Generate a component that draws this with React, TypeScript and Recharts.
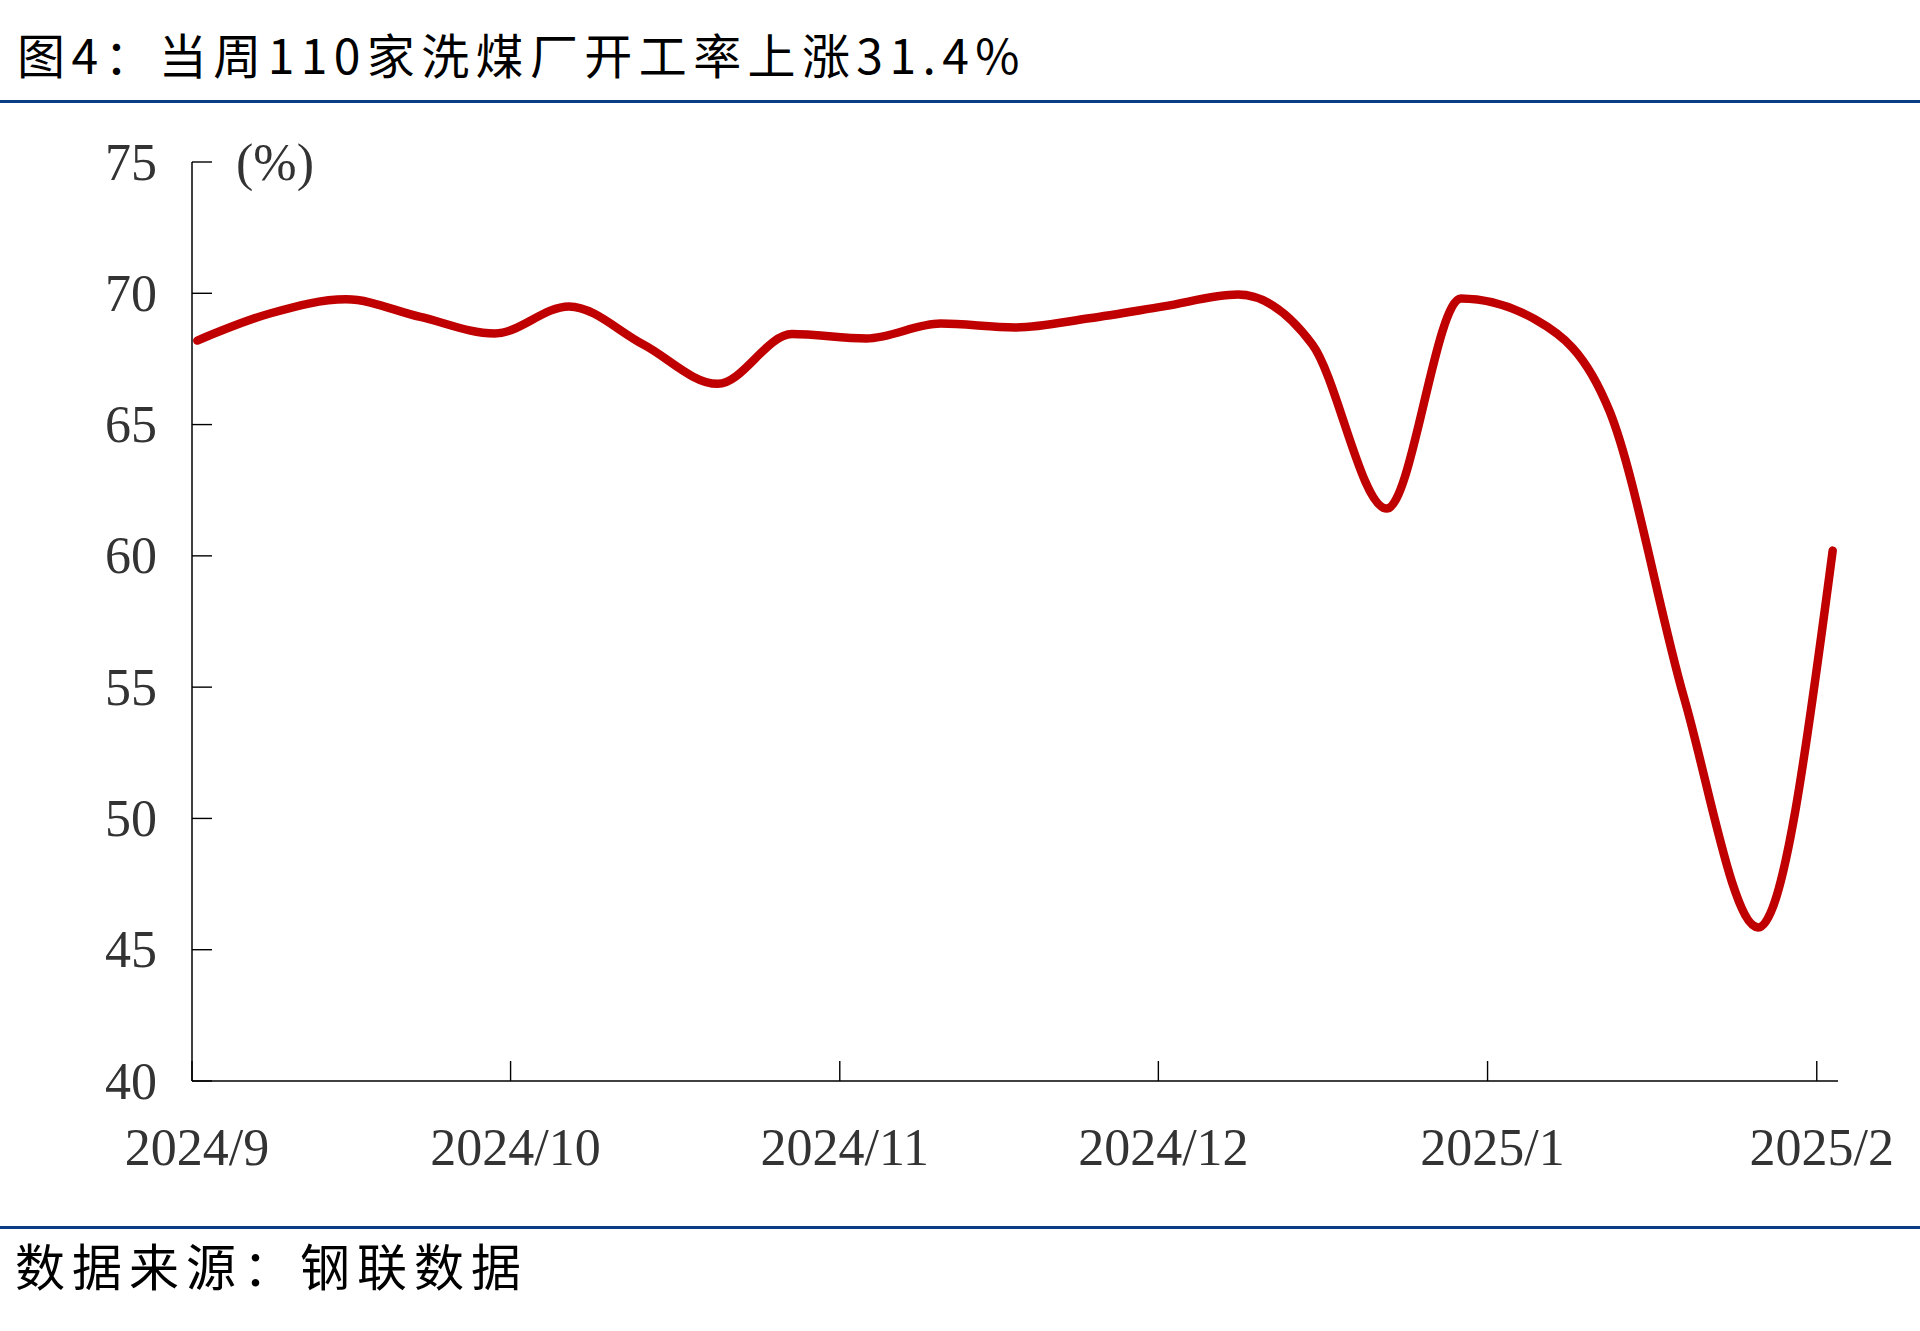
import React from "react";
import { LineChart, Line, XAxis, YAxis } from "recharts";

// weekly readings, 110 coal washing plants operating rate (%)
const weeks = [
  "2024-09-01", "2024-09-08", "2024-09-15", "2024-09-22", "2024-09-29",
  "2024-10-06", "2024-10-13", "2024-10-20", "2024-10-27",
  "2024-11-03", "2024-11-10", "2024-11-17", "2024-11-24",
  "2024-12-01", "2024-12-08", "2024-12-15", "2024-12-22", "2024-12-29",
  "2025-01-05", "2025-01-12", "2025-01-19", "2025-01-26",
  "2025-02-02",
];
const rates = [
  68.2, 69.25, 69.77, 69.1, 68.47,
  69.5, 68.05, 66.55, 68.45,
  68.28, 68.85, 68.7, 69.05,
  69.5, 69.95, 68.05, 61.8, 69.8,
  69.0, 65.5, 54.6, 45.85,
  60.2,
];
const monthStarts = ["2024-09-01", "2024-10-01", "2024-11-01", "2024-12-01", "2025-01-01", "2025-02-01"];
const monthLabels = ["2024/9", "2024/10", "2024/11", "2024/12", "2025/1", "2025/2"];
const yTicks = [40, 45, 50, 55, 60, 65, 70, 75];

const DAY = 86400000;
const origin = Date.parse("2024-09-01");
const toDay = (d: string) => (Date.parse(d) - origin) / DAY;

// readings are plotted at midday of each week's date
const data = weeks.map((w, i) => ({ day: toDay(w) + 0.5, rate: rates[i] }));
const xTicks = monthStarts.map(toDay);

const serif = "'Liberation Serif', 'Times New Roman', serif";
const cjk = "'Noto Sans CJK SC', sans-serif";
const BLUE = "#0b3d86";

const YTick = (props: any) => {
  const { x, y, payload } = props;
  return (
    <g>
      <line x1={x} x2={x + 20} y1={y} y2={y} stroke="#000" strokeWidth={1.4} />
      <text x={x - 35} y={y} textAnchor="end" dominantBaseline="central" fontFamily={serif} fontSize={52} fill="#333">
        {payload.value}
      </text>
    </g>
  );
};

const XTick = (props: any) => {
  const { x, y, payload, index } = props;
  return (
    <g>
      <line x1={x} x2={x} y1={y} y2={y - 20} stroke="#000" strokeWidth={1.4} />
      <text x={x + 5} y={y + 66} textAnchor="middle" dominantBaseline="central" fontFamily={serif} fontSize={52} fill="#333">
        {monthLabels[index] ?? payload.value}
      </text>
    </g>
  );
};

export default function App() {
  return (
    <div style={{ position: "absolute", left: 0, top: 0, width: 1920, height: 1331, background: "#fff", overflow: "hidden" }}>
      <div
        style={{
          position: "absolute", left: 17, top: 29, fontFamily: cjk, fontSize: 48,
          lineHeight: "48px", letterSpacing: 6.4, color: "#000", whiteSpace: "nowrap",
        }}
      >
        图4：当周110家洗煤厂开工率上涨31.4%
      </div>
      <div style={{ position: "absolute", left: 0, top: 100, width: 1920, height: 3, background: BLUE }} />

      <LineChart
        width={1920}
        height={1331}
        data={data}
        margin={{ top: 162, right: 82, bottom: 190, left: 132 }}
        style={{ position: "absolute", left: 0, top: 0 }}
      >
        <XAxis
          dataKey="day"
          type="number"
          domain={[0, 155]}
          ticks={xTicks}
          interval={0}
          height={60}
          tickSize={0}
          tickMargin={0}
          tickLine={false}
          axisLine={{ stroke: "#000", strokeWidth: 1.5 }}
          tick={<XTick />}
        />
        <YAxis
          type="number"
          domain={[40, 75]}
          ticks={yTicks}
          interval={0}
          width={60}
          tickSize={0}
          tickMargin={0}
          tickLine={false}
          axisLine={{ stroke: "#000", strokeWidth: 1.5 }}
          tick={<YTick />}
        />
        <Line
          type="monotone"
          dataKey="rate"
          stroke="#C00000"
          strokeWidth={8.5}
          strokeLinecap="round"
          strokeLinejoin="round"
          dot={false}
          activeDot={false}
          isAnimationActive={false}
        />
      </LineChart>

      <div style={{ position: "absolute", left: 236, top: 133, fontFamily: serif, fontSize: 52, lineHeight: "60px", color: "#333" }}>
        (%)
      </div>

      <div style={{ position: "absolute", left: 0, top: 1226, width: 1920, height: 2.5, background: BLUE }} />
      <div
        style={{
          position: "absolute", left: 15, top: 1239, fontFamily: cjk, fontSize: 50,
          lineHeight: "50px", letterSpacing: 7, color: "#000", whiteSpace: "nowrap",
        }}
      >
        数据来源：钢联数据
      </div>
    </div>
  );
}
